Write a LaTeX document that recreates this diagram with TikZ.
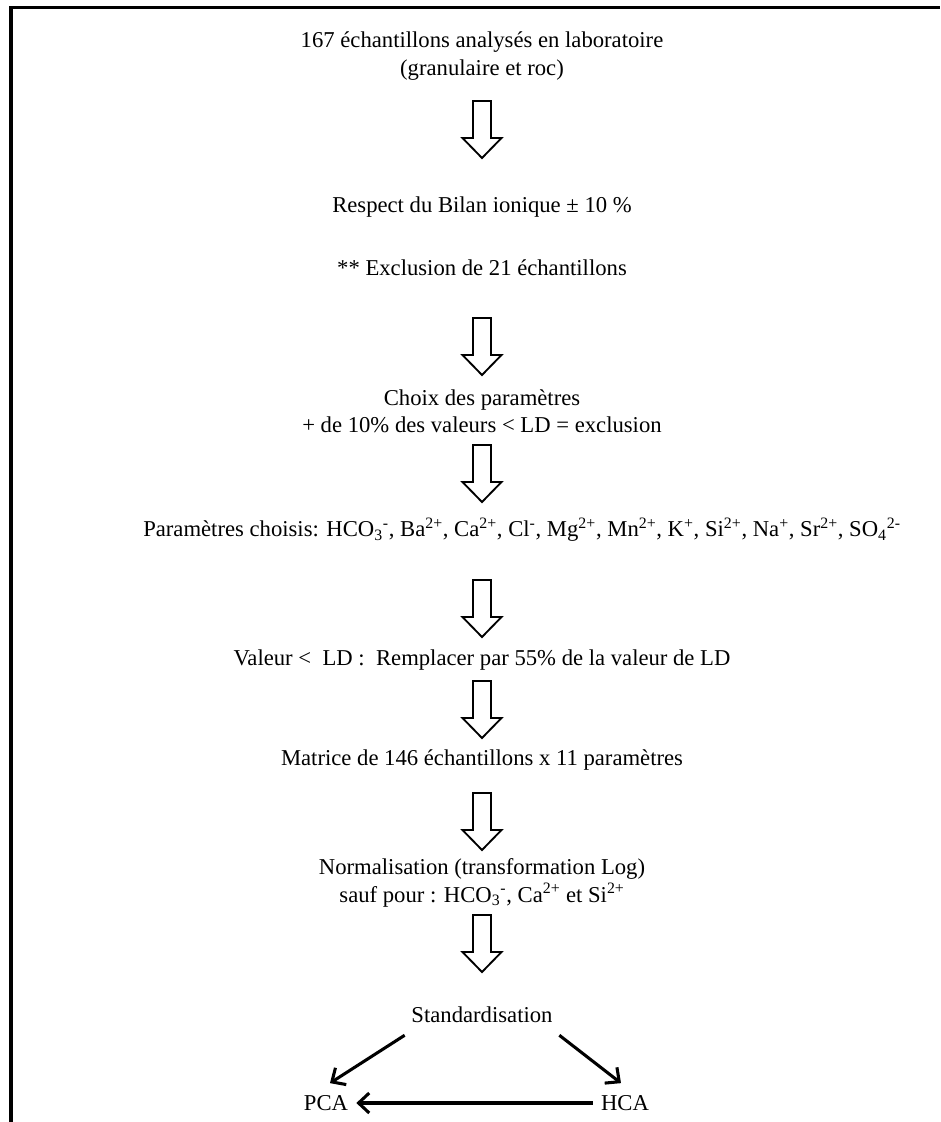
\documentclass[tikz,border=0pt]{standalone}
\usepackage{fontspec}
\setmainfont{Liberation Serif}
\usetikzlibrary{arrows.meta,calc}

\begin{document}
\begin{tikzpicture}[x=0.75pt, y=-0.75pt, font=\fontsize{17}{20.5}\selectfont]
\tikzset{
  txt/.style={align=center, inner sep=0pt},
  hollow/.pic={\draw[line width=1.4pt, fill=white] (-9,0) -- (9,0) -- (9,37) -- (19.5,37) -- (0,57) -- (-19.5,37) -- (-9,37) -- cycle;},
  arr/.style={-{Straight Barb[length=8pt, width=15pt]}, line width=2.3pt},
}
\useasboundingbox (0,0) rectangle (940,1122);
\draw[line width=2.3pt] (11,1122) -- (11,7.5) -- (940,7.5);

\node[txt] (a) at (482,56) {167 échantillons analysés en laboratoire\\(granulaire et roc)};
\node[txt] (b) at (482,207) {Respect du Bilan\ ionique ± 10 \%};
\node[txt] (c) at (482,268) {** Exclusion de 21 échantillons};
\node[txt] (d) at (482,411) {Choix des paramètres\\+ de 10\% des valeurs < LD = exclusion};
\node[txt, anchor=west] (e) at (143,530) {Paramètres choisis: HCO\textsubscript{3}\textsuperscript{-}, Ba\textsuperscript{2+}, Ca\textsuperscript{2+}, Cl\textsuperscript{-}, Mg\textsuperscript{2+}, Mn\textsuperscript{2+}, K\textsuperscript{+}, Si\textsuperscript{2+}, Na\textsuperscript{+}, Sr\textsuperscript{2+}, SO\textsubscript{4}\textsuperscript{2-}};
\node[txt] (f) at (482,660) {Valeur <\ \ LD :\ \ Remplacer par 55\% de la valeur de LD};
\node[txt] (g) at (482,760) {Matrice de 146 échantillons x 11 paramètres};
\node[txt] (h) at (482,883) {Normalisation (transformation Log)\\sauf pour : HCO\textsubscript{3}\textsuperscript{-}, Ca\textsuperscript{2+} et Si\textsuperscript{2+}};
\node[txt] (i) at (482,1015) {Standardisation};
\node[txt] (pca) at (326,1103) {PCA};
\node[txt] (hca) at (625,1103) {HCA};

% big hollow arrows
\pic at ($(a.center)+(0,45)$) {hollow};
\pic at ($(c.center)+(0,50)$) {hollow};
\pic at ($(d.center)+(0,34)$) {hollow};
\pic at ($(a.center |- e.center)+(0,50)$) {hollow};
\pic at ($(f.center)+(0,21)$) {hollow};
\pic at ($(g.center)+(0,33)$) {hollow};
\pic at ($(h.center)+(0,32)$) {hollow};

\draw[arr] ([xshift=-58pt,yshift=-9pt]i.south) -- ([xshift=3pt,yshift=9pt]pca.north);
\draw[arr] ([xshift=58pt,yshift=-9pt]i.south) -- ([xshift=-3pt,yshift=9pt]hca.north);
\draw[arr] ([xshift=-6pt]hca.west) -- ([xshift=6pt]pca.east);
\end{tikzpicture}
\end{document}
